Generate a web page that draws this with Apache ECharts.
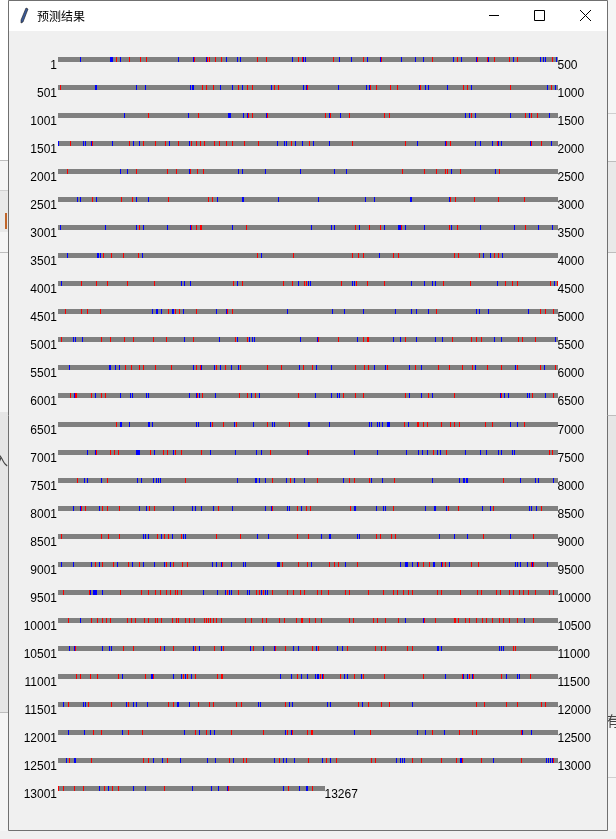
<!DOCTYPE html>
<html><head><meta charset="utf-8">
<script src="https://cdn.jsdelivr.net/npm/echarts@6/dist/echarts.min.js"></script>
<style>html,body{margin:0;padding:0;background:#f0f0f0;}#c{width:616px;height:839px;}</style>
</head><body><div id="c"></div>
<script>
// ---- data ----
const startLabels = ['1','501','1001','1501','2001','2501','3001','3501','4001','4501','5001','5501','6001','6501','7001','7501','8001','8501','9001','9501','10001','10501','11001','11501','12001','12501','13001'];
const endLabels = ['500','1000','1500','2000','2500','3000','3500','4000','4500','5000','5500','6000','6500','7000','7500','8000','8500','9000','9500','10000','10500','11000','11500','12000','12500','13000','13267'];
const rowLengths = [500,500,500,500,500,500,500,500,500,500,500,500,500,500,500,500,500,500,500,500,500,500,500,500,500,500,267];
const redMarks = [
[58,71,82,88,136,149,151,157,163,199,208,240,244,275,305,323,374,399,419,429,436,451,459,494],
[2,144,148,155,180,189,194,216,220,249,312,318,332,339,362,405,409,452,493],
[90,140,190,194,209,267,272,291,326,331,413,467,473,479],
[12,34,71,85,97,107,120,133,138,142,146,156,161,168,174,186,200,233,251,294,347,388,392,439,473,483],
[9,78,109,118,132,139,145,344,366,378,387,389,402,441],
[34,63,74,110,150,154,392,397,416,440,466],
[81,133,138,142,143,188,297,311,322,343,391,399,467],
[45,53,65,80,199,235,294,300,305,335,340,396,400,421,436,440],
[23,38,49,69,96,175,184,225,234,246,248,283,298,309,326,385,412,447,454,459,492,499],
[7,23,29,42,110,117,121,138,169,174,378,482,487,495],
[3,43,52,66,75,95,108,135,177,189,260,280,305,309,310,347,394,413,418,423,460,464,477],
[67,73,81,85,97,113,138,142,158,167,182,209,223,245,254,297,306,310,329,357,380,391,404,414,429,443,459,482,497],
[12,17,18,33,43,47,139,144,181,189,197,240,285,297,305,347,370,396,443,474,495],
[58,154,165,178,209,231,346,359,360,365,369,383,392,396,401,427,434,466],
[38,52,56,60,92,105,109,117,123,143,212,250,375,388,491,494],
[19,49,127,214,232,259,291,296,311,336,445],
[23,27,44,49,61,91,96,160,214,239,248,252,292,335,390,400,435,483],
[3,43,50,61,99,106,110,123,158,182,239,250,318,322,333,337,425,475],
[37,44,55,70,81,108,115,124,129,164,224,240,249,271,276,280,299,360,365,371,384,387,413,420,473,475],
[5,31,62,83,90,97,102,108,112,117,119,123,169,180,198,201,205,214,229,235,242,246,259,263,270,287,291,310,325,335,339,345,350,354,379,383,402,419,423,438,442,451,455,461,465,470,477,491,495],
[10,33,39,44,48,52,69,73,77,86,90,97,99,103,114,118,120,127,131,136,146,148,150,152,155,158,163,187,193,204,208,221,226,238,243,244,251,257,263,291,295,315,319,327,340,366,377,396,397,400,407,411,418,424,428,434,441,445,451,459,475],
[17,65,75,102,115,137,156,165,195,217,227,254,260,289,317,323,327,349,354,455,457],
[18,22,32,39,60,87,95,125,129,137,159,163,164,239,262,265,282,296,305,326,365,404,411,415,443,472],
[10,30,53,70,110,115,140,151,155,178,183,227,300,310,323,331,418,426,448,459,483,487],
[35,43,70,84,137,148,173,205,229,234,249,253,254,312,374,401,414,418,463],
[11,33,85,90,109,171,185,188,221,250,268,278,313,317,354,363,383,398,404,423,463,495],
[0,5,16,25,46,54,60,106,170,230,254]
];
const blueMarks = [
[22,52,53,54,62,120,135,148,168,179,182,234,245,247,281,293,309,322,343,357,365,395,403,418,430,455,482,485,487,498],
[37,38,78,87,132,134,135,162,174,184,213,245,248,280,308,311,361,367,370,389,413,489,497],
[66,130,170,171,172,185,189,208,271,282,407,411,417,452,471,491],
[0,25,27,33,54,75,81,111,131,219,226,228,237,244,255,271,359,387,417,422,434,440,443,472,493],
[62,69,131,180,184,207,242,276,288,393,437],
[19,22,38,78,90,159,184,185,220,260,307,316,352,353,391],
[2,47,78,85,109,132,174,253,273,276,301,326,340,341,342,347,366,393,422,456,480,494],
[9,39,40,42,84,203,321,425,432,444],
[3,123,126,132,179,240,250,252,294,296,353,366,374,377,439,496],
[94,98,99,103,114,115,125,158,168,229,274,286,305,337,353,358,370,418,421,430,470],
[15,17,24,126,161,179,191,194,196,242,259,299,335,342,358,377,384,436,443,497],
[11,51,52,57,61,135,143,156,162,173,180,241,258,273,316,327,351,363,417,457,486],
[16,37,62,72,74,88,90,131,138,141,157,193,201,257,273,279,281,351,363,374,442,446,450,469,471,487],
[62,63,71,90,91,94,138,140,152,176,195,214,216,250,251,271,311,313,319,321,324,329,330,331,350,452,459],
[29,37,78,79,80,81,96,115,152,177,198,203,249,296,319,348,360,364,369,379,382,407,422,428,440,443,454,456],
[26,29,43,79,83,95,98,100,102,179,197,198,201,207,228,236,246,285,313,324,374,401,405,406,408,409,462,477,480,495],
[15,22,41,81,88,115,134,137,143,155,174,207,213,229,231,243,296,297,318,325,327,367,376,377,388,424,432,471,473,478],
[85,87,90,103,114,125,127,199,210,263,271,272,299,301,381,396,409,452],
[3,15,33,41,59,74,85,96,106,112,154,158,163,173,185,187,219,220,221,253,287,342,347,348,349,354,359,375,376,383,391,457,459,462,469,474,489],
[32,35,36,37,38,44,145,159,167,171,173,189,191,203,207,209],
[22,347,365,466],
[11,16,44,51,53,106,135,141,163,192,205,216,235,240,258,279,284,379,380,383,441,443,445],
[64,93,94,115,123,127,133,222,233,243,249,257,259,260,264,286,289,303,387,405,409,414,448,459,461],
[5,25,27,68,75,78,89,119,120,131,200,202,231,234,269,272,304,354],
[10,26,64,126,141,152,156,227,233,296,359,367,386,464,473],
[8,16,17,95,104,122,149,157,175,216,225,228,236,264,272,338,342,344,346,402,403,435,488,490,492,494],
[41,50,75,87,134,153,160,169,225,241,248,249]
];
const rowNames = startLabels;
const windowTitle = '预测结果';

// ---- build ----
const baseData = rowLengths.map((len, r) => [len, r]);
function markData(rows) {
  const out = [];
  rows.forEach((arr, r) => arr.forEach(p => out.push([p, r])));
  return out;
}
const FONT = '12px "Liberation Sans", Arial, sans-serif';

function renderBase(params, api) {
  const len = api.value(0), r = api.value(1);
  const p0 = api.coord([0, r]);
  const p1 = api.coord([len, r]);
  const yTop = Math.round(p0[1] - 2.5);
  return {
    type: 'group',
    children: [
      {type: 'rect', shape: {x: p0[0], y: yTop, width: p1[0] - p0[0], height: 5}, style: {fill: '#808080'}},
      {type: 'text', style: {text: startLabels[r], x: p0[0] - 1, y: yTop + 9, align: 'right', verticalAlign: 'middle', font: FONT, fill: '#000'}},
      {type: 'text', style: {text: endLabels[r], x: p1[0] - 0.5, y: yTop + 9, align: 'left', verticalAlign: 'middle', font: FONT, fill: '#000'}}
    ]
  };
}
function makeMarkRender(color) {
  return function (params, api) {
    const pos = api.value(0), r = api.value(1);
    const a = api.coord([pos, r]);
    const b = api.coord([pos + 1, r]);
    return {type: 'rect', shape: {x: a[0], y: Math.round(a[1] - 2.5), width: b[0] - a[0], height: 5}, style: {fill: color}};
  };
}

// window decoration (outside + frame)
const deco = [
  {type:'rect', shape:{x:0,y:0,width:8,height:839}, style:{fill:'#f5f5f5'}, z:-10},
  {type:'rect', shape:{x:608,y:0,width:8,height:839}, style:{fill:'#f5f5f5'}, z:-10},
  {type:'rect', shape:{x:0,y:831,width:616,height:8}, style:{fill:'#f0f0f0'}, z:-10},
  {type:'rect', shape:{x:0,y:0,width:8,height:160}, style:{fill:'#ffffff'}, z:-9},
  {type:'rect', shape:{x:0,y:190,width:8,height:42}, style:{fill:'#e9e9e9'}, z:-9},
  {type:'rect', shape:{x:5,y:213,width:2,height:16}, style:{fill:'#c0652a'}, z:-8},
  {type:'rect', shape:{x:0,y:412,width:8,height:300}, style:{fill:'#e6e6e6'}, z:-9},
  {type:'text', style:{text:'入', x:-6, y:460, font:'14px "Noto Sans CJK SC"', fill:'#444', verticalAlign:'middle'}, z:-8},
  {type:'line', shape:{x1:0,y1:160.5,x2:8,y2:160.5}, style:{stroke:'#bdbdbd'}, z:-8},
  {type:'line', shape:{x1:0,y1:190.5,x2:8,y2:190.5}, style:{stroke:'#d0d0d0'}, z:-8},
  {type:'line', shape:{x1:0,y1:252.5,x2:8,y2:252.5}, style:{stroke:'#bdbdbd'}, z:-8},
  {type:'line', shape:{x1:0,y1:712.5,x2:8,y2:712.5}, style:{stroke:'#bdbdbd'}, z:-8},
  {type:'rect', shape:{x:608,y:161,width:8,height:91}, style:{fill:'#e9e9e9'}, z:-9},
  {type:'rect', shape:{x:608,y:415,width:8,height:303}, style:{fill:'#e6e6e6'}, z:-9},
  {type:'line', shape:{x1:608,y1:113.5,x2:616,y2:113.5}, style:{stroke:'#cfcfcf'}, z:-8},
  {type:'line', shape:{x1:608,y1:161.5,x2:616,y2:161.5}, style:{stroke:'#bdbdbd'}, z:-8},
  {type:'line', shape:{x1:608,y1:252.5,x2:616,y2:252.5}, style:{stroke:'#bdbdbd'}, z:-8},
  {type:'line', shape:{x1:608,y1:415.5,x2:616,y2:415.5}, style:{stroke:'#bdbdbd'}, z:-8},
  {type:'line', shape:{x1:608,y1:718.5,x2:616,y2:718.5}, style:{stroke:'#bdbdbd'}, z:-8},
  {type:'line', shape:{x1:608,y1:777.5,x2:616,y2:777.5}, style:{stroke:'#cfcfcf'}, z:-8},
  {type:'text', style:{text:'有', x:606, y:721, font:'14px "Noto Sans CJK SC"', fill:'#444', verticalAlign:'middle'}, z:-8},
  {type:'rect', shape:{x:8.5,y:0.5,width:599,height:830}, style:{fill:'#f0f0f0', stroke:'#707070', lineWidth:1}, z:-5},
  {type:'rect', shape:{x:9,y:1,width:598,height:30}, style:{fill:'#ffffff'}, z:-4},
  {type:'polygon', shape:{points:[[26,8],[28,9],[23,22],[21,23],[21,20]]}, style:{fill:'#3b5b9a', stroke:'#1a1a1a', lineWidth:0.6}, z:-3},
  {type:'text', style:{text:windowTitle, x:37, y:16, font:'12px "Noto Sans CJK SC"', fill:'#000', verticalAlign:'middle'}, z:-3},
  {type:'line', shape:{x1:489,y1:15.5,x2:499,y2:15.5}, style:{stroke:'#000', lineWidth:1}, z:-3},
  {type:'rect', shape:{x:534.5,y:10.5,width:10,height:10}, style:{fill:'none', stroke:'#000', lineWidth:1}, z:-3},
  {type:'line', shape:{x1:580,y1:10,x2:591,y2:21}, style:{stroke:'#000', lineWidth:1}, z:-3},
  {type:'line', shape:{x1:591,y1:10,x2:580,y2:21}, style:{stroke:'#000', lineWidth:1}, z:-3}
];

const chart = echarts.init(document.getElementById('c'), null, {renderer: 'canvas'});
chart.setOption({
  animation: false,
  backgroundColor: 'transparent',
  graphic: deco,
  grid: {left: 58, top: 45.48, width: 500, height: 757.08, containLabel: false},
  xAxis: {type: 'value', min: 0, max: 500, show: false},
  yAxis: {type: 'category', data: rowNames, inverse: true, show: false},
  series: [
    {type: 'custom', renderItem: renderBase, data: baseData, clip: false, z: 2},
    {type: 'custom', renderItem: makeMarkRender('#ff0000'), data: markData(redMarks), clip: false, z: 3},
    {type: 'custom', renderItem: makeMarkRender('#0000ff'), data: markData(blueMarks), clip: false, z: 3}
  ]
});
</script></body></html>
